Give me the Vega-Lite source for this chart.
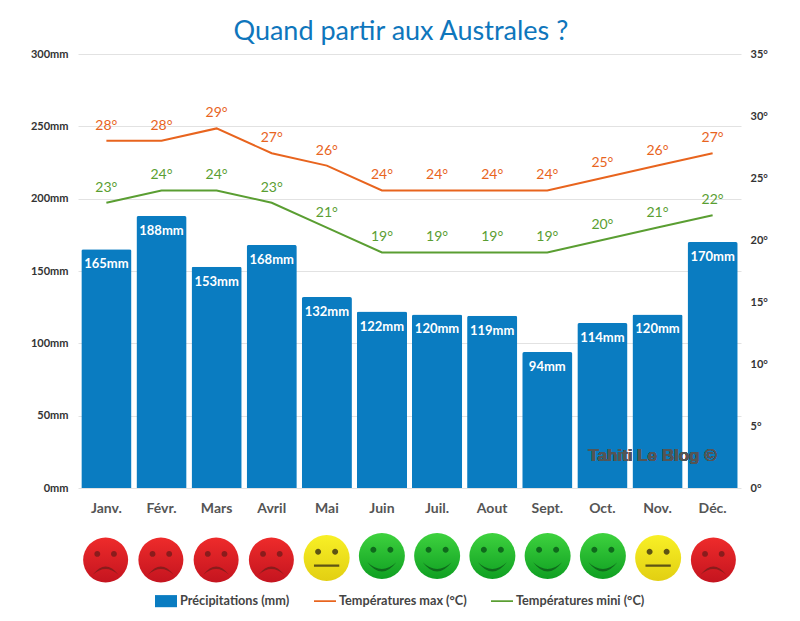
{
  "$schema": "https://vega.github.io/schema/vega-lite/v6.json",
  "background": "white",
  "padding": {"left": 30, "top": 18, "right": 20, "bottom": 5},
  "config": {
    "font": "Lato",
    "view": {"stroke": null},
    "axis": {"domain": false, "ticks": false, "labelFont": "Lato", "labelFontWeight": "bold"}
  },
  "title": {"text": "Quand partir aux Australes ?", "font": "Lato", "fontSize": 27, "fontWeight": "normal", "color": "#0e76bc", "anchor": "middle", "offset": 2, "dx": 2},
  "datasets": {
    "mois": [
      {"mois": "Janv.", "pluie": 165, "tmax": 28, "tmin": 23, "pluie_txt": "165mm", "tmax_txt": "28°", "tmin_txt": "23°", "humeur": "mauvais"},
      {"mois": "Févr.", "pluie": 188, "tmax": 28, "tmin": 24, "pluie_txt": "188mm", "tmax_txt": "28°", "tmin_txt": "24°", "humeur": "mauvais"},
      {"mois": "Mars", "pluie": 153, "tmax": 29, "tmin": 24, "pluie_txt": "153mm", "tmax_txt": "29°", "tmin_txt": "24°", "humeur": "mauvais"},
      {"mois": "Avril", "pluie": 168, "tmax": 27, "tmin": 23, "pluie_txt": "168mm", "tmax_txt": "27°", "tmin_txt": "23°", "humeur": "mauvais"},
      {"mois": "Mai", "pluie": 132, "tmax": 26, "tmin": 21, "pluie_txt": "132mm", "tmax_txt": "26°", "tmin_txt": "21°", "humeur": "moyen"},
      {"mois": "Juin", "pluie": 122, "tmax": 24, "tmin": 19, "pluie_txt": "122mm", "tmax_txt": "24°", "tmin_txt": "19°", "humeur": "bon"},
      {"mois": "Juil.", "pluie": 120, "tmax": 24, "tmin": 19, "pluie_txt": "120mm", "tmax_txt": "24°", "tmin_txt": "19°", "humeur": "bon"},
      {"mois": "Aout", "pluie": 119, "tmax": 24, "tmin": 19, "pluie_txt": "119mm", "tmax_txt": "24°", "tmin_txt": "19°", "humeur": "bon"},
      {"mois": "Sept.", "pluie": 94, "tmax": 24, "tmin": 19, "pluie_txt": "94mm", "tmax_txt": "24°", "tmin_txt": "19°", "humeur": "bon"},
      {"mois": "Oct.", "pluie": 114, "tmax": 25, "tmin": 20, "pluie_txt": "114mm", "tmax_txt": "25°", "tmin_txt": "20°", "humeur": "bon"},
      {"mois": "Nov.", "pluie": 120, "tmax": 26, "tmin": 21, "pluie_txt": "120mm", "tmax_txt": "26°", "tmin_txt": "21°", "humeur": "moyen"},
      {"mois": "Déc.", "pluie": 170, "tmax": 27, "tmin": 22, "pluie_txt": "170mm", "tmax_txt": "27°", "tmin_txt": "22°", "humeur": "mauvais"}
    ],
    "series": [
      {"serie": "Précipitations (mm)"},
      {"serie": "Températures max (°C)"},
      {"serie": "Températures mini (°C)"}
    ]
  },
  "data": {"name": "mois"},
  "spacing": 18,
  "vconcat": [
    {
      "width": 663,
      "height": 434,
      "encoding": {
        "x": {
          "field": "mois",
          "type": "nominal",
          "sort": null,
          "title": null,
          "scale": {"paddingInner": 0.09, "paddingOuter": 0.06},
          "axis": {"labelAngle": 0, "labelFontSize": 14, "labelColor": "#555555", "labelPadding": 13, "grid": false}
        }
      },
      "layer": [
        {
          "encoding": {
            "y": {
              "type": "quantitative",
              "title": null,
              "scale": {"domain": [0, 300]},
              "axis": {"values": [0, 50, 100, 150, 200, 250, 300], "labelExpr": "datum.value + 'mm'", "labelFontSize": 11, "labelColor": "#333333", "labelPadding": 10, "grid": true, "gridColor": "#e2e2e2"}
            }
          },
          "layer": [
            {
              "mark": {"type": "bar", "color": "#0a7cc1", "cornerRadiusTopLeft": 2, "cornerRadiusTopRight": 2},
              "encoding": {"y": {"field": "pluie"}}
            },
            {
              "mark": {"type": "text", "color": "white", "fontWeight": "bold", "fontSize": 13, "dy": 15},
              "encoding": {"y": {"field": "pluie"}, "text": {"field": "pluie_txt"}}
            },
            {
              "mark": {"type": "text", "text": "Tahiti Le Blog ©", "font": "Liberation Sans", "fontWeight": "bold", "fontSize": 17, "color": "#555555", "opacity": 0.75, "dx": -5},
              "encoding": {
                "x": {"datum": "Nov."},
                "y": {"datum": 22}
              }
            }
          ]
        },
        {
          "encoding": {
            "y": {
              "type": "quantitative",
              "title": null,
              "scale": {"domain": [0, 35]},
              "axis": {"orient": "right", "values": [0, 5, 10, 15, 20, 25, 30, 35], "labelExpr": "datum.value + '°'", "labelFontSize": 11, "labelColor": "#333333", "labelPadding": 9, "grid": false}
            }
          },
          "layer": [
            {
              "mark": {"type": "line", "color": "#e8641e", "strokeWidth": 2},
              "encoding": {"y": {"field": "tmax"}}
            },
            {
              "mark": {"type": "line", "color": "#5a9e32", "strokeWidth": 2},
              "encoding": {"y": {"field": "tmin"}}
            },
            {
              "mark": {"type": "text", "color": "#e8641e", "fontSize": 14, "dy": -15},
              "encoding": {"y": {"field": "tmax"}, "text": {"field": "tmax_txt"}}
            },
            {
              "mark": {"type": "text", "color": "#5a9e32", "fontSize": 14, "dy": -15},
              "encoding": {"y": {"field": "tmin"}, "text": {"field": "tmin_txt"}}
            }
          ]
        }
      ],
      "resolve": {"scale": {"y": "independent"}, "axis": {"y": "independent"}}
    },
    {
      "width": 663,
      "height": 50,
      "encoding": {
        "x": {
          "field": "mois",
          "type": "nominal",
          "axis": null,
          "scale": {"domain": ["Janv.", "Févr.", "Mars", "Avril", "Mai", "Juin", "Juil.", "Aout", "Sept.", "Oct.", "Nov.", "Déc."], "paddingInner": 0.09, "paddingOuter": 0.06}
        }
      },
      "layer": [
        {
          "transform": [{"filter": "datum.humeur === 'mauvais'"}],
          "mark": {"type": "point", "shape": "circle", "filled": true, "opacity": 1, "size": 2025, "yOffset": 2, "color": {"gradient": "linear", "x1": 0, "y1": 0, "x2": 0, "y2": 1, "stops": [{"offset": 0, "color": "#ee2b2b"}, {"offset": 1, "color": "#c4141f"}]}}
        },
        {
          "transform": [{"filter": "datum.humeur === 'mauvais'"}],
          "mark": {"type": "point", "filled": true, "opacity": 1, "size": 2025, "yOffset": 2, "color": "#8a1c1c", "shape": "M-0.5,-0.27 a0.13,0.13 0 1 1 0.26,0 a0.13,0.13 0 1 1 -0.26,0 Z M0.24,-0.27 a0.13,0.13 0 1 1 0.26,0 a0.13,0.13 0 1 1 -0.26,0 Z M-0.57,0.66 Q0,-0.08 0.57,0.66 Q0,0.14 -0.57,0.66 Z"}
        },
        {
          "transform": [{"filter": "datum.humeur === 'moyen'"}],
          "mark": {"type": "point", "shape": "circle", "filled": true, "opacity": 1, "size": 2116, "yOffset": 0, "color": {"gradient": "linear", "x1": 0, "y1": 0, "x2": 0, "y2": 1, "stops": [{"offset": 0, "color": "#f8f026"}, {"offset": 1, "color": "#e2cf12"}]}}
        },
        {
          "transform": [{"filter": "datum.humeur === 'moyen'"}],
          "mark": {"type": "point", "filled": true, "opacity": 1, "size": 2116, "yOffset": 0, "color": "#5e5414", "shape": "M-0.5,-0.27 a0.13,0.13 0 1 1 0.26,0 a0.13,0.13 0 1 1 -0.26,0 Z M0.24,-0.27 a0.13,0.13 0 1 1 0.26,0 a0.13,0.13 0 1 1 -0.26,0 Z M-0.55,0.28 H0.55 V0.38 H-0.55 Z"}
        },
        {
          "transform": [{"filter": "datum.humeur === 'bon'"}],
          "mark": {"type": "point", "shape": "circle", "filled": true, "opacity": 1, "size": 2116, "yOffset": -2, "color": {"gradient": "linear", "x1": 0, "y1": 0, "x2": 0, "y2": 1, "stops": [{"offset": 0, "color": "#3ed23e"}, {"offset": 1, "color": "#0f9f22"}]}}
        },
        {
          "transform": [{"filter": "datum.humeur === 'bon'"}],
          "mark": {"type": "point", "filled": true, "opacity": 1, "size": 2116, "yOffset": -2, "color": "#0f6a1c", "shape": "M-0.5,-0.27 a0.13,0.13 0 1 1 0.26,0 a0.13,0.13 0 1 1 -0.26,0 Z M0.24,-0.27 a0.13,0.13 0 1 1 0.26,0 a0.13,0.13 0 1 1 -0.26,0 Z M-0.63,0.27 Q0,1.08 0.63,0.27 Q0,0.86 -0.63,0.27 Z"}
        },
        {
          "data": {"name": "series"},
          "mark": {"type": "point", "filled": true, "opacity": 1, "size": 0},
          "encoding": {
            "x": {"value": 0},
            "color": {
              "field": "serie",
              "type": "nominal",
              "scale": {"domain": ["Précipitations (mm)", "Températures max (°C)", "Températures mini (°C)"], "range": ["#0a7cc1", "#e8641e", "#5a9e32"]},
              "legend": {"title": null, "orient": "none", "legendX": 77, "legendY": 536, "direction": "horizontal", "columns": 3, "columnPadding": 24, "symbolSize": 484, "symbolOpacity": 1, "symbolStrokeWidth": 0, "labelFont": "Lato", "labelFontSize": 12.7, "labelFontWeight": "bold", "labelColor": "#444444", "labelOffset": 3, "labelLimit": 200}
            },
            "shape": {
              "field": "serie",
              "type": "nominal",
              "scale": {"domain": ["Précipitations (mm)", "Températures max (°C)", "Températures mini (°C)"], "range": ["M-1,-0.55 H1 V0.55 H-1 Z", "M-1,-0.08 H1 V0.08 H-1 Z", "M-1,-0.08 H1 V0.08 H-1 Z"]}
            }
          }
        }
      ]
    }
  ]
}
